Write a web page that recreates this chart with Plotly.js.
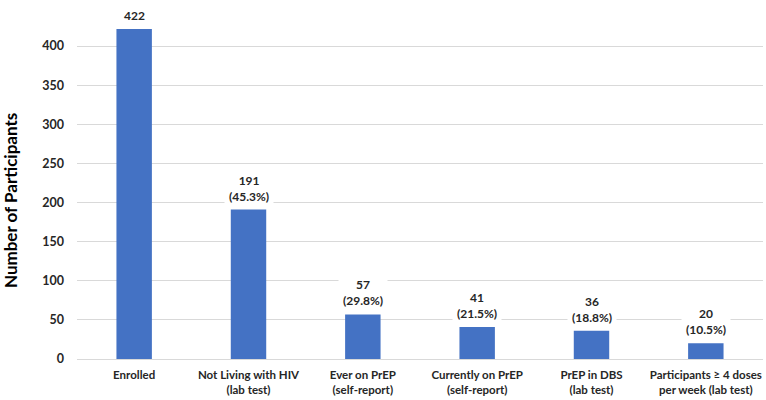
<!DOCTYPE html>
<html>
<head>
<meta charset="utf-8">
<script src="https://cdn.plot.ly/plotly-3.0.1.min.js"></script>
<style>
  html, body { margin: 0; padding: 0; background: #fff; }
  #chart { width: 766px; height: 400px; }
</style>
</head>
<body>
<div id="chart"></div>
<script>
// PrEP cascade: participant counts at each stage
const categories = [
  "Enrolled",
  "Not Living with HIV<br>(lab test)",
  "Ever on PrEP<br>(self-report)",
  "Currently on PrEP<br>(self-report)",
  "PrEP in DBS<br>(lab test)",
  "Participants \u2265 4 doses<br>per week (lab test)"
];
const counts = [422, 191, 57, 41, 36, 20];
const percents = [null, "45.3%", "29.8%", "21.5%", "18.8%", "10.5%"];
const yTicks = [0, 50, 100, 150, 200, 250, 300, 350, 400, 450];
const yTitle = "Number of Participants";

const FONT = "Lato, 'Liberation Sans', sans-serif";

const labels = counts.map((v, i) =>
  percents[i] ? `${v}<br>(${percents[i]})` : `${v}`
);

const trace = {
  type: "bar",
  x: categories,
  y: counts,
  marker: { color: "#4472C4" },
  hoverinfo: "none"
};

// value labels sit on white boxes above each bar, hiding the gridlines behind them
const annotations = counts.map((v, i) => ({
  x: categories[i],
  y: v,
  xref: "x",
  yref: "y",
  yanchor: "bottom",
  yshift: 1,
  text: `<b>${labels[i]}</b>`,
  showarrow: false,
  bgcolor: "#ffffff",
  borderpad: 4,
  font: { family: FONT, size: 12, color: "#262626" }
}));

// vertical axis title, centred on the whole chart height rather than the plot area
annotations.push({
  xref: "paper",
  yref: "paper",
  x: -0.097,
  y: 0.45,
  xanchor: "center",
  yanchor: "middle",
  textangle: -90,
  text: `<b>${yTitle}</b>`,
  showarrow: false,
  font: { family: FONT, size: 17, color: "#000000" }
});

const layout = {
  width: 766,
  height: 400,
  margin: { l: 77, r: 3, t: 7, b: 41 },
  paper_bgcolor: "#ffffff",
  plot_bgcolor: "#ffffff",
  bargap: 0.69,
  showlegend: false,
  font: { family: FONT, color: "#262626" },
  xaxis: {
    type: "category",
    showgrid: false,
    showline: true,
    linecolor: "#d9d9d9",
    linewidth: 1,
    ticks: "",
    ticklabelstandoff: 5,
    tickfont: { family: FONT, size: 11.5, color: "#262626", weight: "bold" },
    automargin: false
  },
  yaxis: {
    range: [0, 450],
    tickvals: yTicks,
    ticktext: yTicks.map(String),
    showgrid: true,
    gridcolor: "#d9d9d9",
    gridwidth: 1,
    zeroline: false,
    showline: false,
    ticks: "",
    ticklabelstandoff: 12,
    tickfont: { family: FONT, size: 12.5, color: "#262626", weight: "bold" },
    automargin: false
  },
  annotations: annotations
};

Plotly.newPlot("chart", [trace], layout, { staticPlot: true, displayModeBar: false });
</script>
</body>
</html>
